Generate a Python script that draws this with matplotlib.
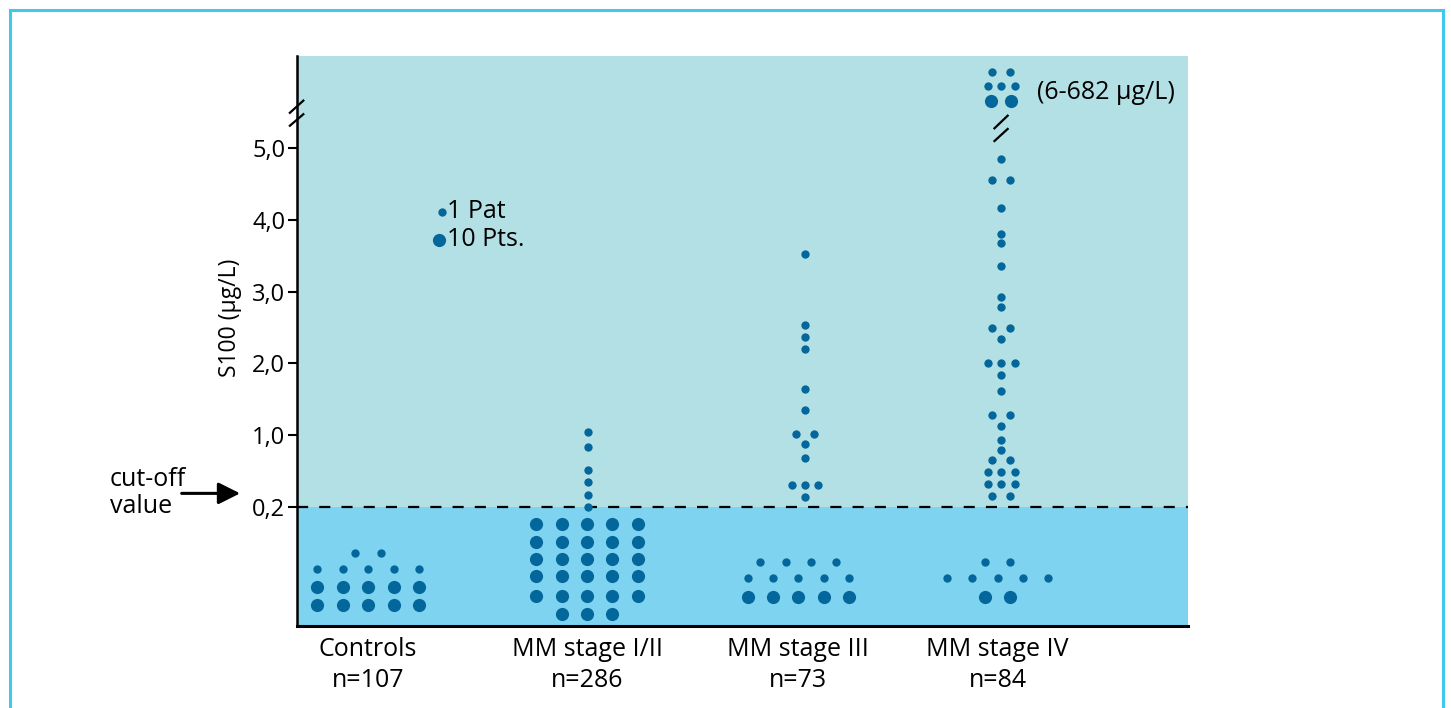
import numpy as np
import matplotlib.pyplot as plt
from matplotlib.patches import Rectangle

plt.rcParams['font.family'] = ['Open Sans', 'DejaVu Sans']

# groups along the x axis
groups = ['Controls', 'MM stage I/II', 'MM stage III', 'MM stage IV']
n_patients = [107, 286, 73, 84]

# counting rows below the cut-off: dots per row and patients per dot
# (10 = large dot, 1 = small dot)
controls_row_counts = [5, 5, 5, 2]
controls_row_kinds = [10, 10, 1, 1]
stage12_row_counts = [3, 5, 5, 5, 5, 5]
stage12_row_kinds = [10, 10, 10, 10, 10, 10]
stage3_row_counts = [5, 5, 4]
stage3_row_kinds = [10, 1, 1]
stage4_row_counts = [2, 5, 2]
stage4_row_kinds = [10, 1, 1]

# single patients above the cut-off, S100 in µg/L
stage12_high = [1.05, 0.87, 0.61, 0.48, 0.33, 0.2]
stage3_high = [3.53, 2.53, 2.37, 2.2, 1.65, 1.35, 1.01, 1.01, 0.9, 0.75,
               0.45, 0.45, 0.45, 0.31]
stage4_high = [4.85, 4.56, 4.56, 4.17, 3.8, 3.68, 3.35, 2.93, 2.78,
               2.49, 2.49, 2.34, 2.0, 2.0, 2.0, 1.84, 1.61, 1.28, 1.28,
               1.13, 0.95, 0.83, 0.72, 0.72, 0.59, 0.59, 0.59,
               0.46, 0.46, 0.46, 0.32, 0.32]

# stage IV patients off the scale (6-682 µg/L)
stage4_off_counts = [2, 3, 2]
stage4_off_kinds = [10, 1, 1]

cutoff = 0.2
y_ticks = [0.2, 1.0, 2.0, 3.0, 4.0, 5.0]

# kleuren
teal = '#b3e0e5'
blue = '#7dd3f0'
dot_color = '#04679b'
frame_color = '#40c8f0'
s_small = 36
s_big = 90


def to_axis(v):
    # 0,2 - 1,0 takes the same room as one unit above 1,0
    v = np.asarray(v, dtype=float)
    return np.where(v >= 1, v, (v - cutoff) / (1 - cutoff))


# layout (x in dot columns, y in axis units)
group_x = [2.80, 11.42, 19.74, 27.58]
high_x = [11.44, 20.0, 27.72]
controls_row_y = [-1.365, -1.110, -0.859, -0.645]
stage12_row_y = [-1.490, -1.244, -0.961, -0.724, -0.483, -0.241]
stage34_row_y = [-1.249, -0.985, -0.770]
off_row_y = [5.66, 5.87, 6.06]
y_bottom, y_top = -1.657, 6.281
x_right = 35.08

fig = plt.figure(figsize=(14.51, 7.08), dpi=100)
ax = fig.add_axes([297 / 1451, 82 / 708, 891 / 1451, 570 / 708])
ax.set_xlim(0, x_right)
ax.set_ylim(y_bottom, y_top)
ax.set_facecolor('none')

ax.axhspan(0, y_top, color=teal, lw=0, zorder=0)
ax.axhspan(y_bottom, 0, color=blue, lw=0, zorder=0)
ax.axhline(0, color='black', lw=1.6, ls=(0, (5, 5)), zorder=2)


def draw_rows(cx, counts, kinds, ys):
    for n, k, y in zip(counts, kinds, ys):
        offs = np.arange(n) - (n - 1) / 2
        ax.scatter(cx + offs, np.full(n, y), s=s_big if k == 10 else s_small,
                   color=dot_color, lw=0, zorder=3, clip_on=False)


def draw_stack(cx, ys, counts, kinds):
    for y, n, k in zip(ys, counts, kinds):
        if k == 10:
            step = 0.82
        else:
            step = 0.7 if n == 2 else 0.53
        offs = (np.arange(n) - (n - 1) / 2) * step
        ax.scatter(cx + offs, np.full(n, y), s=s_big if k == 10 else s_small,
                   color=dot_color, lw=0, zorder=3, clip_on=False)


def draw_high(cx, values):
    vals, counts = np.unique(values, return_counts=True)
    draw_stack(cx, to_axis(vals), counts, [1] * len(vals))


draw_rows(group_x[0], controls_row_counts, controls_row_kinds, controls_row_y)
draw_rows(group_x[1], stage12_row_counts, stage12_row_kinds, stage12_row_y)
draw_rows(group_x[2], stage3_row_counts, stage3_row_kinds, stage34_row_y)
draw_rows(group_x[3], stage4_row_counts, stage4_row_kinds, stage34_row_y)

draw_high(high_x[0], stage12_high)
draw_high(high_x[1], stage3_high)
draw_high(high_x[2], stage4_high)
draw_stack(high_x[2], off_row_y, stage4_off_counts, stage4_off_kinds)
ax.text(29.13, 5.766, '(6-682 µg/L)', fontsize=18, va='center')

# breuktekens op de as en in de kolom van stage IV
for y0, y1 in [(5.31, 5.47), (5.49, 5.66)]:
    ax.plot([-0.28, 0.25], [y0, y1], color='black', lw=1.6, clip_on=False,
            zorder=4)
for y0, y1 in [(5.097, 5.265), (5.274, 5.45)]:
    ax.plot([high_x[2] - 0.26, high_x[2] + 0.26], [y0, y1], color='black',
            lw=1.6, zorder=4)

# legenda
ax.scatter([5.70], [4.113], s=s_small, color=dot_color, lw=0, zorder=3)
ax.scatter([5.60], [3.719], s=s_big, color=dot_color, lw=0, zorder=3)
ax.text(5.9, 4.113, '1 Pat', fontsize=18, va='center')
ax.text(5.9, 3.719, '10 Pts.', fontsize=18, va='center')

# assen
for side in ['top', 'right']:
    ax.spines[side].set_visible(False)
ax.spines['left'].set_linewidth(1.8)
ax.spines['bottom'].set_linewidth(2.2)
ax.spines['bottom'].set_bounds(0, x_right)

ax.set_yticks(to_axis(y_ticks))
ax.set_yticklabels([f'{t:.1f}'.replace('.', ',') for t in y_ticks])
ax.tick_params(axis='y', length=6.5, width=1.5, pad=2, labelsize=17)

ax.set_xticks(group_x)
ax.set_xticklabels([g + '\nn=' + str(n) for g, n in zip(groups, n_patients)])
ax.tick_params(axis='x', length=0, pad=8, labelsize=18)
for lbl in ax.get_xticklabels():
    lbl.set_linespacing(1.3)

ax.set_ylabel('S100 (µg/L)', fontsize=16.5)
ax.yaxis.set_label_coords(-0.062, 0.54)

# cut-off aanduiding
ax.text(-7.36, 0.195, 'cut-off\nvalue', ha='left', va='center', fontsize=18,
        linespacing=1.15, clip_on=False)
ax.annotate('', xy=(-2.24, 0.19), xytext=(-4.54, 0.19),
            arrowprops=dict(arrowstyle='-|>,head_length=0.6,head_width=0.3',
                            lw=2.2, color='black', mutation_scale=22,
                            shrinkA=0, shrinkB=0),
            annotation_clip=False)

# kader rond de figuur
fig.add_artist(Rectangle((10 / 1451, -0.1), 1433 / 1451, 697.5 / 708 + 0.1,
                         fill=False, edgecolor=frame_color, lw=2.2,
                         transform=fig.transFigure))

fig.savefig('out.png', dpi=100)
